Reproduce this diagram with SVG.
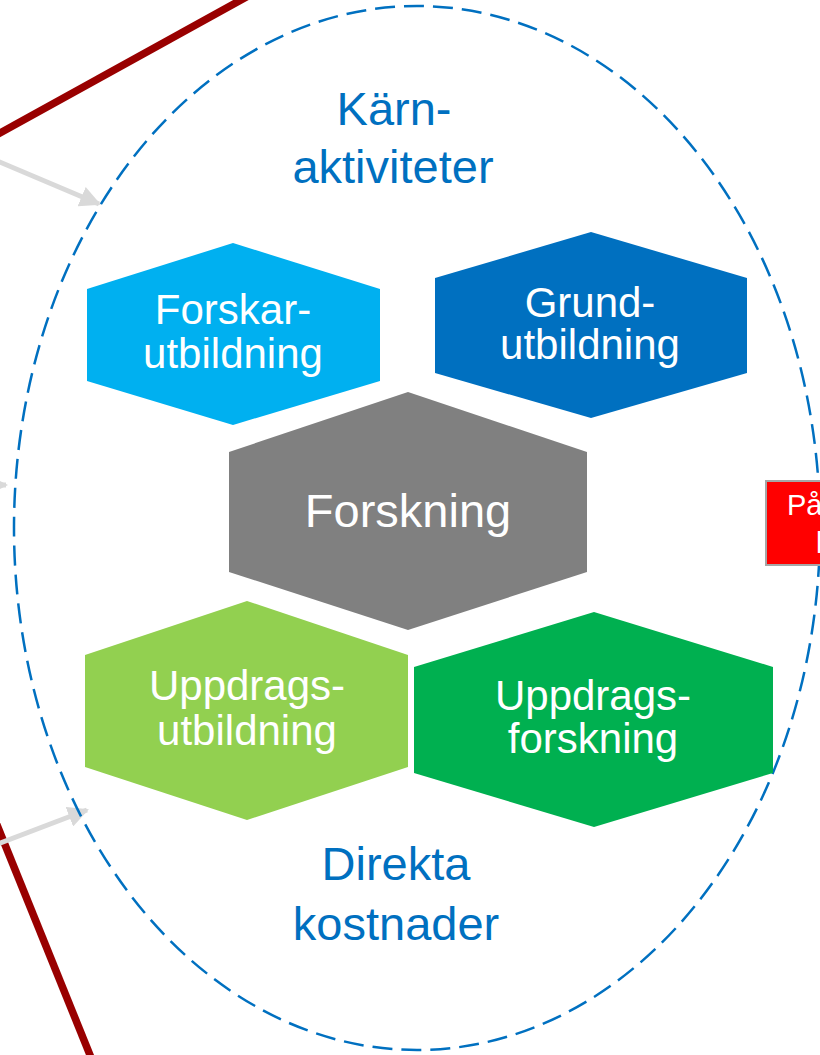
<svg xmlns="http://www.w3.org/2000/svg" width="820" height="1055" viewBox="0 0 820 1055">
<defs>
<style>
.hex text{font-family:"Liberation Sans",Arial,sans-serif;fill:#fff;text-anchor:middle}
.lbl{font-family:"Liberation Sans",Arial,sans-serif;fill:#0070C0;font-size:47px;text-anchor:middle}
.red{stroke:#990000;stroke-width:7.5;fill:none}
.gray{stroke:#D9D9D9;stroke-width:5;fill:none}
</style>
<marker id="ah" viewBox="0 0 10 10" refX="9" refY="5" markerWidth="4.2" markerHeight="4.2" orient="auto" markerUnits="strokeWidth">
<path d="M0,0 L10,5 L0,10 z" fill="#D9D9D9"/>
</marker>
</defs>
<rect width="820" height="1055" fill="#fff"/>
<g id="connectors">
<line class="red" x1="-10" y1="138.5" x2="250" y2="-5"/>
<line class="red" x1="-5" y1="820" x2="92" y2="1060"/>
<line class="gray" x1="-5" y1="160" x2="99" y2="204" marker-end="url(#ah)"/>
<line class="gray" x1="-30" y1="485" x2="6" y2="485" marker-end="url(#ah)"/>
<line class="gray" x1="-5" y1="845" x2="87" y2="810" marker-end="url(#ah)"/>
</g>
<g id="boundary">
<ellipse cx="417" cy="528" rx="403" ry="522" fill="none" stroke="#0070C0" stroke-width="2.5" stroke-dasharray="20 9"/>
</g>
<g id="label-karn">
<text class="lbl" x="394" y="125">Kärn-</text>
<text class="lbl" x="393" y="183">aktiviteter</text>
</g>
<g id="label-direkta">
<text class="lbl" x="396" y="880">Direkta</text>
<text class="lbl" x="396" y="940">kostnader</text>
</g>
<g id="forskarutbildning" class="hex">
<polygon points="233,243 380,289 380,381 233,425 87,381 87,289" fill="#00B0F0"/>
<text x="233" y="324" font-size="42">Forskar-</text>
<text x="233" y="368" font-size="42">utbildning</text>
</g>
<g id="grundutbildning" class="hex">
<polygon points="591,232 747,278 747,373 591,418 435,373 435,278" fill="#0070C0"/>
<text x="590" y="317" font-size="42">Grund-</text>
<text x="590" y="359" font-size="42">utbildning</text>
</g>
<g id="forskning" class="hex">
<polygon points="408,392 587,452 587,572 408,630 229,572 229,452" fill="#808080"/>
<text x="408" y="527" font-size="47">Forskning</text>
</g>
<g id="uppdragsutbildning" class="hex">
<polygon points="247,601 408,655 408,767 247,820 85,767 85,655" fill="#92D050"/>
<text x="247" y="700" font-size="42">Uppdrags-</text>
<text x="247" y="745" font-size="42">utbildning</text>
</g>
<g id="uppdragsforskning" class="hex">
<polygon points="594,612 773,667 773,773 594,827 414,773 414,667" fill="#00B050"/>
<text x="593" y="710" font-size="42">Uppdrags-</text>
<text x="593" y="753" font-size="42">forskning</text>
</g>
<g id="paslag">
<rect x="766" y="481" width="70" height="84" fill="#FF0000" stroke="#A6A6A6" stroke-width="2"/>
<text x="787" y="515" font-family="Liberation Sans,Arial,sans-serif" font-size="29" fill="#fff">På</text>
<text x="816" y="553" font-family="Liberation Sans,Arial,sans-serif" font-size="29" fill="#fff">l</text>
</g>
</svg>
